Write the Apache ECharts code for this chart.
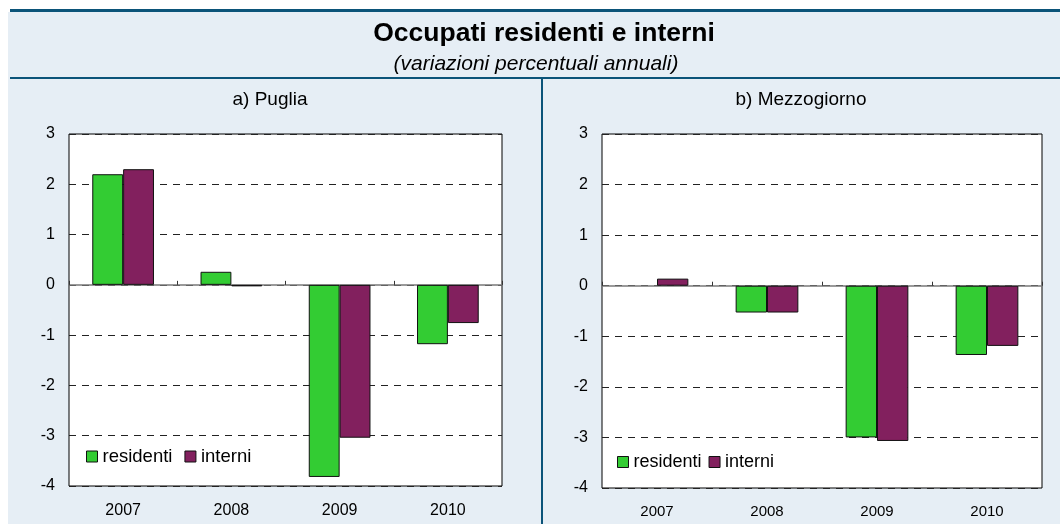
<!DOCTYPE html>
<html>
<head>
<meta charset="utf-8">
<script src="https://cdn.jsdelivr.net/npm/echarts@6/dist/echarts.min.js"></script>
<style>
html,body{margin:0;padding:0;background:#fff;}
#c{width:1060px;height:524px;}
</style>
</head>
<body>
<div id="c"></div>
<script>
const years = ['2007', '2008', '2009', '2010'];
const yTicks = [3, 2, 1, 0, -1, -2, -3, -4];
const pugliaResidenti = [2.2, 0.26, -3.82, -1.18];
const pugliaInterni = [2.3, -0.03, -3.04, -0.76];
const mezzResidenti = [null, -0.53, -3.0, -1.37];
const mezzInterni = [0.14, -0.53, -3.07, -1.19];
const seriesNames = ['residenti', 'interni'];
const colors = ['#33CC33', '#82205E'];

const chart = echarts.init(document.getElementById('c'), null, {renderer: 'canvas'});
const FONT = '"Liberation Sans", Arial, sans-serif';
const DARK = '#0B5479';
const BG = '#E6EEF5';

const yMin = Math.min(...yTicks), yMax = Math.max(...yTicks);

function yAxisFor(gi, fs) {
  return {
    type: 'value', gridIndex: gi, min: yMin, max: yMax, interval: 1,
    axisLine: {show: false}, axisTick: {show: false},
    axisLabel: {fontFamily: FONT, fontSize: fs, color: '#000', margin: 14},
    splitLine: {show: true, lineStyle: {color: '#222', type: [7, 6], width: 1}}
  };
}
function xAxesFor(gi, fs, margin) {
  return [
    { type: 'category', gridIndex: gi, data: years, position: 'bottom',
      axisLine: {show: false, onZero: false}, axisTick: {show: false},
      axisLabel: {fontFamily: FONT, fontSize: fs, color: '#000', margin: margin},
      splitLine: {show: false} },
    { type: 'category', gridIndex: gi, data: years, position: 'bottom',
      axisLine: {show: true, onZero: true, lineStyle: {color: '#7a7a7a', width: 1.5}},
      axisTick: {show: true, inside: true, length: 4, lineStyle: {color: '#333'}},
      axisLabel: {show: false}, splitLine: {show: false} }
  ];
}
function barSeries(name, data, xi, yi, color) {
  return {
    name: name, type: 'bar', xAxisIndex: xi, yAxisIndex: yi, data: data,
    barGap: '0%', barCategoryGap: '43%',
    itemStyle: {color: color, borderColor: '#111', borderWidth: 1},
    emphasis: {disabled: true}, animation: false
  };
}
function legendFor(left, top, fs, gap) {
  return {data: seriesNames, left: left, top: top, padding: 0, icon: 'rect',
    itemWidth: 11, itemHeight: 11, itemGap: gap,
    textStyle: {fontFamily: FONT, fontSize: fs, color: '#000', padding: [0, 0, 0, 0]},
    itemStyle: {borderColor: '#111', borderWidth: 1}, selectedMode: false};
}

const option = {
  animation: false,
  backgroundColor: '#fff',
  grid: [
    {left: 69, right: 558, top: 134, bottom: 38, show: true, backgroundColor: '#fff', borderColor: '#000', borderWidth: 1},
    {left: 602, right: 18, top: 134, bottom: 36, show: true, backgroundColor: '#fff', borderColor: '#000', borderWidth: 1}
  ],
  xAxis: [...xAxesFor(0, 16, 17), ...xAxesFor(1, 15, 16)],
  yAxis: [yAxisFor(0, 16), yAxisFor(1, 16)],
  legend: [legendFor(86, 447, 18.5, 12), legendFor(617, 453, 18, 7)],
  series: [
    barSeries(seriesNames[0], pugliaResidenti, 0, 0, colors[0]),
    barSeries(seriesNames[1], pugliaInterni, 0, 0, colors[1]),
    barSeries(seriesNames[0], mezzResidenti, 2, 1, colors[0]),
    barSeries(seriesNames[1], mezzInterni, 2, 1, colors[1])
  ],
  graphic: [
    {type: 'rect', z: -10, silent: true, shape: {x: 8, y: 12, width: 1052, height: 512}, style: {fill: BG}},
    {type: 'rect', z: 100, silent: true, shape: {x: 10, y: 9, width: 1050, height: 3}, style: {fill: DARK}},
    {type: 'rect', z: 100, silent: true, shape: {x: 10, y: 77, width: 1050, height: 2}, style: {fill: DARK}},
    {type: 'rect', z: 100, silent: true, shape: {x: 541, y: 78, width: 2, height: 446}, style: {fill: DARK}},
    {type: 'text', z: 100, silent: true, x: 544, y: 34,
     style: {text: 'Occupati residenti e interni', fontFamily: FONT, fontSize: 26.5, fontWeight: 'bold', fill: '#000', align: 'center', verticalAlign: 'middle'}},
    {type: 'text', z: 100, silent: true, x: 536, y: 64,
     style: {text: '(variazioni percentuali annuali)', fontFamily: FONT, fontSize: 21, fontStyle: 'italic', fill: '#000', align: 'center', verticalAlign: 'middle'}},
    {type: 'text', z: 100, silent: true, x: 270, y: 100,
     style: {text: 'a) Puglia', fontFamily: FONT, fontSize: 19, fill: '#000', align: 'center', verticalAlign: 'middle'}},
    {type: 'text', z: 100, silent: true, x: 801, y: 100,
     style: {text: 'b) Mezzogiorno', fontFamily: FONT, fontSize: 19, fill: '#000', align: 'center', verticalAlign: 'middle'}}
  ]
};
chart.setOption(option);
</script>
</body>
</html>
